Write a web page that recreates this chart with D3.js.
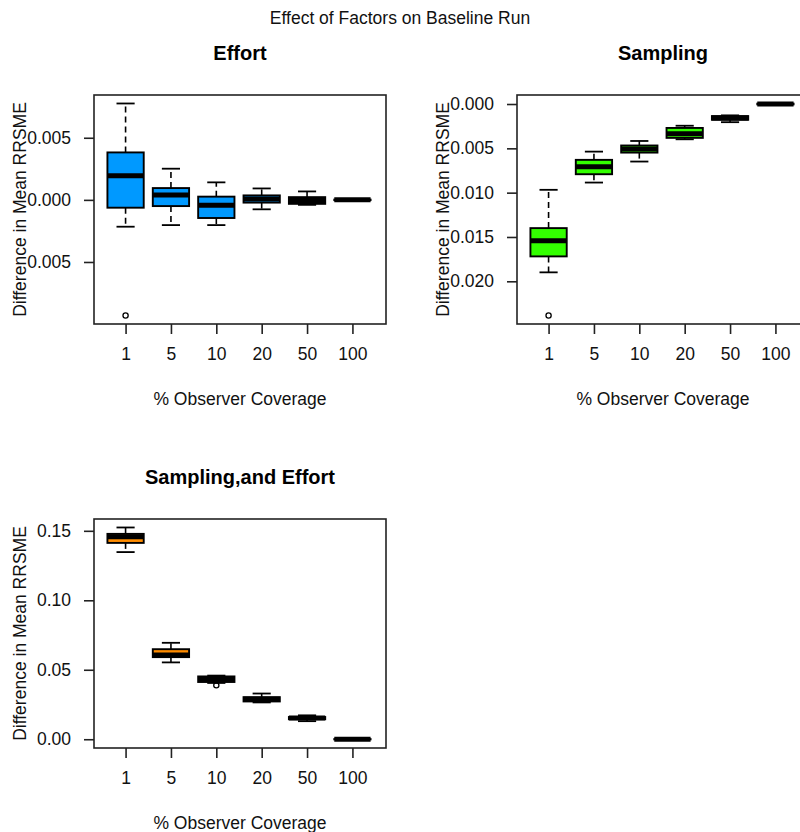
<!DOCTYPE html>
<html>
<head>
<meta charset="utf-8">
<script src="https://cdn.jsdelivr.net/npm/d3@7"></script>
<style>
  body { margin: 0; background: #fff; }
  svg { display: block; font-family: "Liberation Sans", Arial, sans-serif; }
</style>
</head>
<body>
<div id="chart"></div>
<script>
// Observer coverage levels (x categories)
const coverage = ["1", "5", "10", "20", "50", "100"];

// Box summaries per coverage level: [lower whisker, Q1, median, Q3, upper whisker]
const effortStats = [
  [-0.00216, -0.00063, 0.00194, 0.00382, 0.00776],
  [-0.00203, -0.00050, 0.00039, 0.00095, 0.00251],
  [-0.00203, -0.00146, -0.00044, 0.00026, 0.00141],
  [-0.00076, -0.00022, 0.00008, 0.00036, 0.00092],
  [-0.00040, -0.00032, -0.00005, 0.00022, 0.00068],
  [-0.00004, -0.00002, 0.00000, 0.00002, 0.00004]
];
const effortOutliers = [["1", -0.00931]];

const samplingStats = [
  [-0.01899, -0.01719, -0.01542, -0.01400, -0.00968],
  [-0.00886, -0.00792, -0.00709, -0.00630, -0.00537],
  [-0.00649, -0.00548, -0.00508, -0.00468, -0.00417],
  [-0.00398, -0.00382, -0.00335, -0.00270, -0.00245],
  [-0.00205, -0.00178, -0.00157, -0.00136, -0.00128],
  [-0.00008, -0.00004, 0.00000, 0.00004, 0.00006]
];
const samplingOutliers = [["1", -0.02386]];

const bothStats = [
  [0.1347, 0.1413, 0.1458, 0.1478, 0.1524],
  [0.0553, 0.0591, 0.0607, 0.0648, 0.0694],
  [0.0405, 0.0412, 0.0432, 0.0452, 0.0458],
  [0.0265, 0.0272, 0.0288, 0.0303, 0.0329],
  [0.0130, 0.0144, 0.0152, 0.0160, 0.0172],
  [-0.0002, -0.0001, 0.0000, 0.0001, 0.0002]
];
const bothOutliers = [["10", 0.0388]];

// Y tick positions and their printed labels
const effortTicks = [0.005, 0, -0.005];
const effortTickLabels = ["0.005", "0.000", "0.005"];
const samplingTicks = [0, -0.005, -0.010, -0.015, -0.020];
const samplingTickLabels = ["0.000", "0.005", "0.010", "0.015", "0.020"];
const bothTicks = [0, 0.05, 0.10, 0.15];
const bothTickLabels = ["0.00", "0.05", "0.10", "0.15"];

const W = 800, H = 832;
const plotW = 292, plotH = 229;
const textSize = 17.5;

const panels = [
  { title: "Effort", stats: effortStats, outliers: effortOutliers, fill: "#0099ff",
    ticks: effortTicks, labels: effortTickLabels, left: 94, top: 95 },
  { title: "Sampling", stats: samplingStats, outliers: samplingOutliers, fill: "#33ff00",
    ticks: samplingTicks, labels: samplingTickLabels, left: 517, top: 95 },
  { title: "Sampling,and Effort", stats: bothStats, outliers: bothOutliers, fill: "#ff8c00",
    ticks: bothTicks, labels: bothTickLabels, left: 94, top: 519 }
];

const svg = d3.select("#chart").append("svg")
  .attr("width", W).attr("height", H)
  .attr("viewBox", `0 0 ${W} ${H}`);

svg.append("rect").attr("width", W).attr("height", H).attr("fill", "#fff");

svg.append("text")
  .attr("x", W / 2).attr("y", 18)
  .attr("text-anchor", "middle").attr("dominant-baseline", "central")
  .attr("font-size", 17.5).attr("fill", "#111")
  .text("Effect of Factors on Baseline Run");

panels.forEach(p => {
  const g = svg.append("g").attr("transform", `translate(${p.left},${p.top})`);

  const x = d3.scalePoint().domain(coverage).range([-2, plotW]).padding(0.74);
  const step = x.step();
  const boxW = step * 0.8;
  const capW = boxW * 0.5;

  // y range covers all whiskers and outliers, padded 4% each side
  const allVals = p.stats.flat().concat(p.outliers.map(o => o[1]));
  const [lo, hi] = d3.extent(allVals);
  const pad = (hi - lo) * 0.04;
  const y = d3.scaleLinear().domain([lo - pad, hi + pad]).range([plotH, 0]);

  // boxes
  p.stats.forEach((s, i) => {
    const cx = x(coverage[i]);
    const [wl, q1, med, q3, wh] = s;
    const b = g.append("g");
    // dashed whiskers
    b.append("line").attr("x1", cx).attr("x2", cx).attr("y1", y(q3)).attr("y2", y(wh))
      .attr("stroke", "#000").attr("stroke-width", 1.6).attr("stroke-dasharray", "6,4");
    b.append("line").attr("x1", cx).attr("x2", cx).attr("y1", y(q1)).attr("y2", y(wl))
      .attr("stroke", "#000").attr("stroke-width", 1.6).attr("stroke-dasharray", "6,4");
    // staples
    [wl, wh].forEach(v => {
      b.append("line").attr("x1", cx - capW / 2).attr("x2", cx + capW / 2)
        .attr("y1", y(v)).attr("y2", y(v))
        .attr("stroke", "#000").attr("stroke-width", 1.8);
    });
    // box
    b.append("rect")
      .attr("x", cx - boxW / 2).attr("width", boxW)
      .attr("y", y(q3)).attr("height", Math.max(0, y(q1) - y(q3)))
      .attr("fill", p.fill).attr("stroke", "#000").attr("stroke-width", 1.9);
    // median
    b.append("line").attr("x1", cx - boxW / 2).attr("x2", cx + boxW / 2)
      .attr("y1", y(med)).attr("y2", y(med))
      .attr("stroke", "#000").attr("stroke-width", 5);
  });

  // outliers
  g.selectAll("circle.out").data(p.outliers).join("circle")
    .attr("class", "out")
    .attr("cx", d => x(d[0])).attr("cy", d => y(d[1])).attr("r", 2.6)
    .attr("fill", "none").attr("stroke", "#000").attr("stroke-width", 1.3);

  // frame
  g.append("rect").attr("width", plotW).attr("height", plotH)
    .attr("fill", "none").attr("stroke", "#222").attr("stroke-width", 1.6);

  // y axis
  const yAxis = g.append("g")
    .call(d3.axisLeft(y).tickValues(p.ticks).tickFormat((d, i) => p.labels[i])
      .tickSize(10).tickPadding(13));
  yAxis.select(".domain").remove();
  yAxis.selectAll(".tick line").attr("stroke", "#222").attr("stroke-width", 1.6);
  yAxis.selectAll(".tick text").attr("font-size", textSize).attr("fill", "#111")
    .attr("font-family", "Liberation Sans, Arial, sans-serif");

  // x axis
  const xAxis = g.append("g").attr("transform", `translate(0,${plotH})`)
    .call(d3.axisBottom(x).tickSize(10).tickPadding(14));
  xAxis.select(".domain").remove();
  xAxis.selectAll(".tick line").attr("stroke", "#222").attr("stroke-width", 1.6);
  xAxis.selectAll(".tick text").attr("font-size", textSize).attr("fill", "#111")
    .attr("font-family", "Liberation Sans, Arial, sans-serif");

  // axis titles
  g.append("text")
    .attr("x", plotW / 2).attr("y", plotH + 75)
    .attr("text-anchor", "middle").attr("dominant-baseline", "central")
    .attr("font-size", textSize).attr("fill", "#111")
    .text("% Observer Coverage");
  g.append("text")
    .attr("transform", `translate(-74,${plotH / 2}) rotate(-90)`)
    .attr("text-anchor", "middle").attr("dominant-baseline", "central")
    .attr("font-size", textSize).attr("fill", "#111")
    .text("Difference in Mean RRSME");

  // panel title
  g.append("text")
    .attr("x", plotW / 2).attr("y", -42)
    .attr("text-anchor", "middle").attr("dominant-baseline", "central")
    .attr("font-size", 20).attr("font-weight", "bold").attr("fill", "#000")
    .text(p.title);
});
</script>
</body>
</html>
